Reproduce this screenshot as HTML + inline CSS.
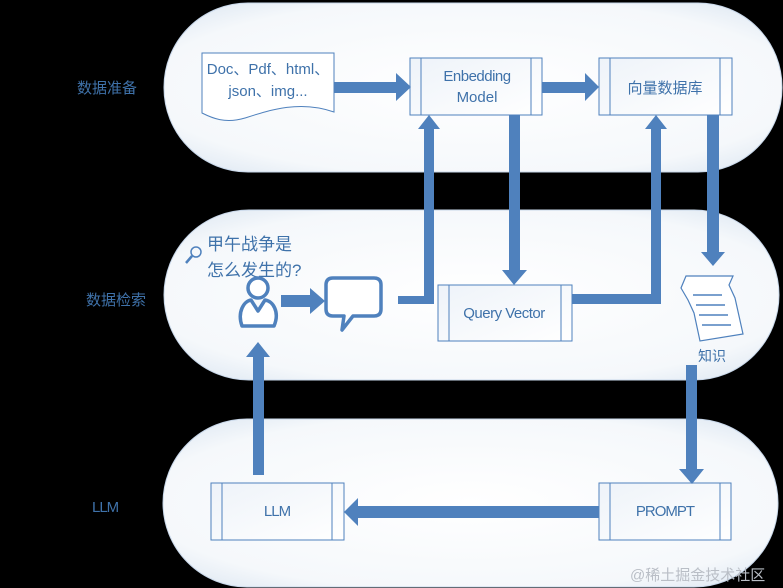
<!DOCTYPE html>
<html><head><meta charset="utf-8"><style>
html,body{margin:0;padding:0;background:#000;width:783px;height:588px;overflow:hidden;}
svg{display:block}
text{font-family:"Liberation Sans","Noto Sans CJK SC",sans-serif;fill:#3f72aa}
</style></head><body>
<svg width="783" height="588" viewBox="0 0 783 588" xmlns="http://www.w3.org/2000/svg">
<defs>
<radialGradient id="g" cx="0.5" cy="0.5" r="0.7">
<stop offset="0" stop-color="#ffffff"/><stop offset="0.75" stop-color="#f5f8fb"/><stop offset="1" stop-color="#dae5f1"/>
</radialGradient>
<linearGradient id="b" x1="0" y1="0" x2="1" y2="1"><stop offset="0" stop-color="#eef3f9"/><stop offset="1" stop-color="#ffffff"/></linearGradient>
<clipPath id="c"><rect x="0" y="0" width="783" height="588"/></clipPath>
</defs>
<g clip-path="url(#c)">
<rect x="0" y="0" width="783" height="588" fill="#000"/>
<rect x="164" y="3" width="618" height="169" rx="84" fill="url(#g)" stroke="#c9d8ea"/>
<rect x="164" y="210" width="615" height="170" rx="85" fill="url(#g)" stroke="#c9d8ea"/>
<rect x="163" y="419" width="615" height="168" rx="84" fill="url(#g)" stroke="#c9d8ea"/>

<text x="77" y="93" font-size="15">数据准备</text>
<text x="86" y="305" font-size="15">数据检索</text>
<text x="92" y="512" font-size="15" letter-spacing="-1">LLM</text>

<path d="M202,53 H334 V112 C300,100 270,110 245,118 C225,124 212,118 202,113 Z" fill="#fff" stroke="#4f81bd"/>
<text x="268" y="74" font-size="15" text-anchor="middle">Doc、Pdf、html、</text>
<text x="268" y="96" font-size="15" text-anchor="middle">json、img...</text>

<g fill="url(#b)" stroke="#4f81bd" stroke-width="1">
<rect x="410" y="58" width="132" height="57"/><line x1="421" y1="58" x2="421" y2="115"/><line x1="531" y1="58" x2="531" y2="115"/>
<rect x="599" y="58" width="133" height="57"/><line x1="610" y1="58" x2="610" y2="115"/><line x1="720" y1="58" x2="720" y2="115"/>
<rect x="438" y="285" width="134" height="56"/><line x1="449" y1="285" x2="449" y2="341"/><line x1="561" y1="285" x2="561" y2="341"/>
<rect x="211" y="483" width="133" height="57"/><line x1="222" y1="483" x2="222" y2="540"/><line x1="332" y1="483" x2="332" y2="540"/>
<rect x="599" y="483" width="132" height="57"/><line x1="610" y1="483" x2="610" y2="540"/><line x1="720" y1="483" x2="720" y2="540"/>
</g>
<text x="477" y="81" font-size="15" text-anchor="middle" letter-spacing="-0.5">Enbedding</text>
<text x="477" y="102" font-size="15" text-anchor="middle">Model</text>
<text x="665" y="93" font-size="15" text-anchor="middle">向量数据库</text>
<text x="504" y="318" font-size="15" text-anchor="middle" letter-spacing="-0.5">Query Vector</text>
<text x="277" y="516" font-size="15" text-anchor="middle" letter-spacing="-1">LLM</text>
<text x="665" y="516" font-size="15" text-anchor="middle" letter-spacing="-1">PROMPT</text>

<g fill="#4f81bd">
<rect x="334" y="82" width="62" height="11"/><polygon points="396,73 411,87 396,101"/>
<rect x="542" y="82" width="44" height="11"/><polygon points="585,73 599,87 585,101"/>
<rect x="398" y="296" width="36" height="8"/><rect x="424" y="128" width="10" height="176"/><polygon points="418,129 429,115 440,129"/>
<rect x="509" y="115" width="11" height="156"/><polygon points="502,270 514,285 527,270"/>
<rect x="572" y="294" width="89" height="10"/><rect x="651" y="128" width="10" height="176"/><polygon points="645,129 656,115 667,129"/>
<rect x="707" y="115" width="12" height="138"/><polygon points="701,252 713,266 725,252"/>
<rect x="686" y="365" width="11" height="105"/><polygon points="679,469 692,484 704,469"/>
<rect x="357" y="506" width="242" height="12"/><polygon points="358,498 344,512 358,526"/>
<rect x="253" y="356" width="11" height="119"/><polygon points="246,357 258,342 270,357"/>
<rect x="281" y="295" width="30" height="12"/><polygon points="310,288 325,301 310,314"/>
</g>

<circle cx="196" cy="252" r="5" fill="none" stroke="#4f81bd" stroke-width="1.5"/>
<line x1="192" y1="256" x2="186" y2="263" stroke="#4f81bd" stroke-width="2.5"/>
<text x="207" y="250" font-size="17">甲午战争是</text>
<text x="207" y="276" font-size="17">怎么发生的?</text>
<circle cx="258" cy="288" r="10" fill="#fff" stroke="#4f81bd" stroke-width="3.5"/>
<path d="M242,326 C237,312 244,301 251,300 L258,311 L265,300 C273,301 280,312 274,326 Z" fill="#fff" stroke="#4f81bd" stroke-width="3.5" stroke-linejoin="round"/>
<path d="M333,278 H374 Q381,278 381,285 V309 Q381,316 374,316 H353 L342,330 L344,316 H333 Q326,316 326,309 V285 Q326,278 333,278 Z" fill="#fff" stroke="#4f81bd" stroke-width="3.5" stroke-linejoin="round"/>

<path d="M686,276 L733,276 L729,285 L735,298 L743,334 L700,341 L694,313 L688,300 L681,288 Z" fill="#fff" stroke="#4f81bd" stroke-width="1.2"/>
<g stroke="#4f81bd" stroke-width="1.5"><line x1="693" y1="295" x2="722" y2="295"/><line x1="696" y1="305" x2="725" y2="305"/><line x1="699" y1="315" x2="728" y2="315"/><line x1="702" y1="325" x2="731" y2="325"/></g>
<text x="712" y="361" font-size="14" text-anchor="middle">知识</text>

<text x="630" y="580" font-size="15" style="fill:#b9bec6">@稀土掘金技术社区</text>
</g>
</svg>
</body></html>
